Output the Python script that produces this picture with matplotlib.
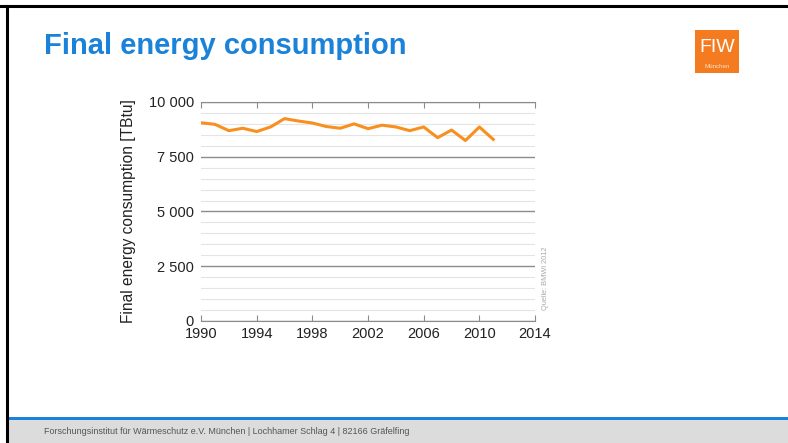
import matplotlib
matplotlib.use('Agg')
import matplotlib.pyplot as plt
from matplotlib.patches import Rectangle
from matplotlib.ticker import MultipleLocator, FuncFormatter

years = [1990, 1991, 1992, 1993, 1994, 1995, 1996, 1997, 1998, 1999, 2000,
         2001, 2002, 2003, 2004, 2005, 2006, 2007, 2008, 2009, 2010, 2011]
consumption = [9050, 8980, 8690, 8800, 8650, 8860, 9240, 9130, 9040, 8880, 8800,
               9000, 8780, 8940, 8860, 8690, 8860, 8370, 8720, 8240, 8860, 8290]
x_ticks = [1990, 1994, 1998, 2002, 2006, 2010, 2014]

plt.rcParams['font.family'] = ['Liberation Sans', 'DejaVu Sans']

fig = plt.figure(figsize=(7.88, 4.43), dpi=100)

# slide frame
bg = fig.add_axes([0, 0, 1, 1])
bg.set_xlim(0, 788)
bg.set_ylim(443, 0)
bg.axis('off')
bg.add_patch(Rectangle((7, 420), 781, 23, color='#dcdcdc', lw=0))
bg.add_patch(Rectangle((7, 417), 781, 3.3, color='#1a82d8', lw=0))
bg.plot([0, 788], [6, 6], color='black', lw=2.2)
bg.plot([7, 7], [6, 443], color='black', lw=2.2)
bg.text(44, 46, 'Final energy consumption', color='#1a82d8', fontsize=21,
        fontweight='bold', va='center', ha='left')
bg.text(44, 431.5, 'Forschungsinstitut für Wärmeschutz e.V. München | Lochhamer Schlag 4 | 82166 Gräfelfing',
        color='#555555', fontsize=6.5, va='center', ha='left')
# logo
bg.add_patch(Rectangle((695, 30), 44, 43, color='#f47b20', lw=0))
bg.text(717, 47, 'FIW', color='white', fontsize=14, ha='center', va='center')
bg.text(717, 66, 'München', color='#ffe0c8', fontsize=4.5, ha='center', va='center')

ax = fig.add_axes([0.2551, 0.2754, 0.4239, 0.4944])
ax.plot(years, consumption, color='#f7901e', lw=2.2, solid_joinstyle='round', zorder=3)
ax.set_xlim(1990, 2014)
ax.set_ylim(0, 10000)
ax.set_xticks(x_ticks)
ax.yaxis.set_major_locator(MultipleLocator(2500))
ax.yaxis.set_minor_locator(MultipleLocator(500))
ax.yaxis.set_major_formatter(FuncFormatter(lambda v, p: f'{int(v):,}'.replace(',', ' ')))
ax.grid(axis='y', which='major', color='#8c8c8c', lw=1.0)
ax.grid(axis='y', which='minor', color='#e4e4e4', lw=0.8)
for s in ['left', 'right']:
    ax.spines[s].set_visible(False)
ax.spines['bottom'].set_color('#8c8c8c')
ax.spines['top'].set_color('#8c8c8c')
ax.tick_params(axis='x', direction='in', top=True, length=4, color='#8c8c8c',
               labelsize=10.5, pad=4, labelcolor='#222222')
ax.tick_params(axis='y', which='both', length=0, labelsize=10.5, pad=5, labelcolor='#222222')
for lbl in ax.get_yticklabels():
    lbl.set_verticalalignment('center_baseline')
ax.set_ylabel('Final energy consumption [TBtu]', fontsize=11.2, color='#222222', labelpad=9)
ax.text(1.03, 0.05, 'Quelle: BMWi 2012', transform=ax.transAxes, rotation=90,
        fontsize=5.3, color='#aaaaaa', ha='center', va='bottom')

fig.savefig('out.png', dpi=100)
